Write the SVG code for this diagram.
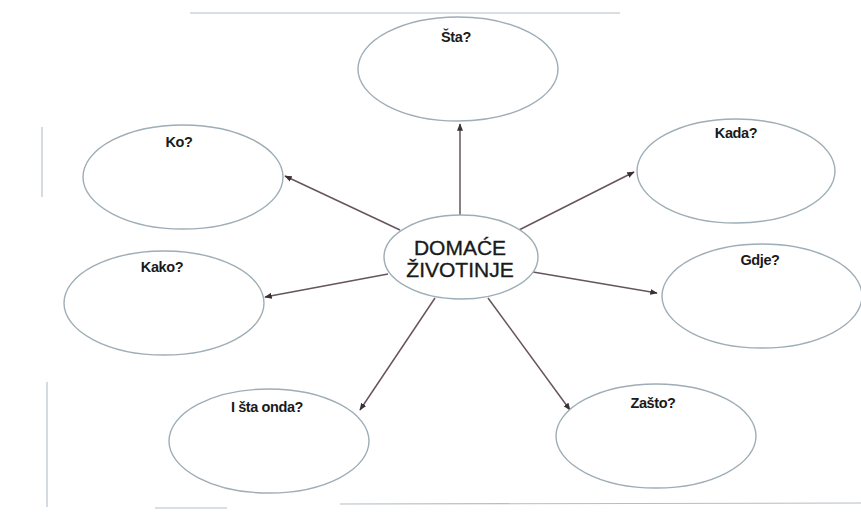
<svg xmlns="http://www.w3.org/2000/svg" width="861" height="521" viewBox="0 0 861 521">
<style>
.node ellipse{fill:#ffffff;stroke:#9eadb6;stroke-width:1.4}
.lbl{font-family:"Liberation Sans",Arial,sans-serif;font-weight:bold;font-size:14.5px;fill:#1a1a1a;text-anchor:middle;letter-spacing:-0.4px}
.center{font-family:"Liberation Sans",Arial,sans-serif;font-size:21px;fill:#1a1a1a;stroke:#1a1a1a;stroke-width:0.35;text-anchor:middle}
.frame line{stroke:#b3bec6;stroke-width:1.1}
#connectors line{stroke:#67545e;stroke-width:1.5;marker-end:url(#ah)}
</style>
<defs>
<marker id="ah" viewBox="0 0 10 10" refX="9" refY="5" markerWidth="5" markerHeight="5" orient="auto" markerUnits="strokeWidth">
<path d="M0,1 L10,5 L0,9 z" fill="#3a3036"/>
</marker>
</defs>
<rect width="861" height="521" fill="#ffffff"/>
<g class="frame">
<line x1="190" y1="13" x2="620" y2="13"/>
<line x1="42" y1="127" x2="42" y2="197"/>
<line x1="47" y1="382" x2="47" y2="507"/>
<line x1="155" y1="508" x2="227" y2="508"/>
<line x1="340" y1="504" x2="861" y2="503"/>
</g>
<g id="connectors">
<line x1="460" y1="216" x2="460" y2="124"/>
<line x1="400" y1="230" x2="285" y2="176"/>
<line x1="519" y1="230" x2="634" y2="172"/>
<line x1="533" y1="272" x2="657" y2="293"/>
<line x1="388" y1="274" x2="265" y2="297"/>
<line x1="435" y1="298" x2="360" y2="410"/>
<line x1="488" y1="298" x2="570" y2="410"/>
</g>
<g id="node-sta" class="node">
<ellipse cx="458" cy="69" rx="100" ry="52"/>
<text class="lbl" x="456" y="42">Šta?</text>
</g>
<g id="node-ko" class="node">
<ellipse cx="183" cy="177" rx="100" ry="52"/>
<text class="lbl" x="179" y="147">Ko?</text>
</g>
<g id="node-kada" class="node">
<ellipse cx="736" cy="171" rx="99" ry="52"/>
<text class="lbl" x="736" y="138">Kada?</text>
</g>
<g id="node-gdje" class="node">
<ellipse cx="762" cy="296" rx="100" ry="52"/>
<text class="lbl" x="760" y="265">Gdje?</text>
</g>
<g id="node-kako" class="node">
<ellipse cx="164" cy="303" rx="100" ry="52"/>
<text class="lbl" x="162" y="272">Kako?</text>
</g>
<g id="node-ista" class="node">
<ellipse cx="269" cy="441" rx="100" ry="52"/>
<text class="lbl" x="267" y="412">I šta onda?</text>
</g>
<g id="node-zasto" class="node">
<ellipse cx="656" cy="436" rx="100" ry="52"/>
<text class="lbl" x="653" y="408">Zašto?</text>
</g>
<g id="node-center" class="node">
<ellipse cx="461" cy="257" rx="77" ry="42"/>
<text class="center" x="460" y="255">DOMAĆE</text>
<text class="center" x="460" y="277">ŽIVOTINJE</text>
</g>
</svg>
